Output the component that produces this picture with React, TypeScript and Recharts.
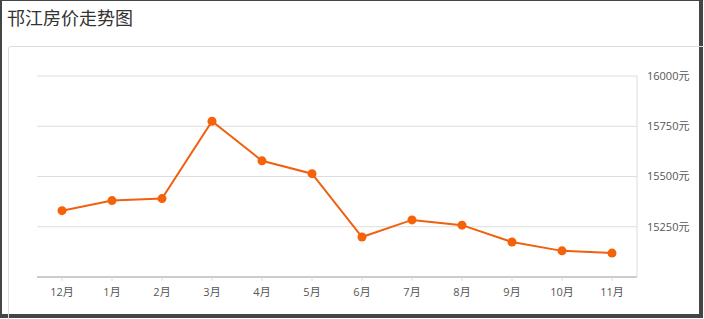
import React from 'react';
import { LineChart, Line, XAxis, YAxis, CartesianGrid } from 'recharts';

// 邗江 monthly average price (元/㎡), Dec -> Nov
const months = ['12月', '1月', '2月', '3月', '4月', '5月', '6月', '7月', '8月', '9月', '10月', '11月'];
const prices = [15330, 15380, 15390, 15775, 15578, 15514, 15199, 15284, 15258, 15174, 15130, 15119];
const yTicks = [15250, 15500, 15750, 16000];

const chartData = months.map((m, i) => ({ month: m, price: prices[i] }));

const FONT = '"Open Sans", "Noto Sans CJK SC", sans-serif';

export default function App() {
  return (
    <div style={{ position: 'absolute', left: 0, top: 0, width: 704, height: 319, background: '#fff', overflow: 'hidden', fontFamily: FONT }}>
      {/* window frame */}
      <div
        style={{
          position: 'absolute', left: 0, top: 0, width: 703, height: 318,
          boxSizing: 'border-box', borderStyle: 'solid', borderColor: '#454545',
          borderWidth: '1px 4px 4px 2px'
        }}
      />
      <div style={{ position: 'absolute', left: 7, top: 6, fontSize: 18, color: '#333', lineHeight: '24px' }}>
        邗江房价走势图
      </div>
      {/* inner panel */}
      <div
        style={{
          position: 'absolute', left: 8, top: 46, width: 720, height: 300,
          border: '1px solid #ddd', borderRadius: 3, boxSizing: 'border-box'
        }}
      />
      <div style={{ position: 'absolute', left: 0, top: 0 }}>
        <LineChart
          width={704}
          height={319}
          data={chartData}
          margin={{ top: 76, right: 7, bottom: 12, left: 37 }}
          style={{ fontFamily: FONT }}
        >
          <CartesianGrid vertical={false} stroke="#ddd" />
          <XAxis
            dataKey="month"
            interval={0}
            padding={{ left: 25, right: 25 }}
            height={30}
            axisLine={{ stroke: '#ccc', strokeWidth: 2 }}
            tickLine={{ stroke: '#ddd' }}
            tickSize={4}
            tickMargin={7}
            tick={{ fill: '#555', fontSize: 11 }}
          />
          <YAxis
            orientation="right"
            width={60}
            domain={[15000, 16000]}
            ticks={yTicks}
            axisLine={{ stroke: '#ddd' }}
            tickLine={false}
            tickMargin={4}
            tick={{ fill: '#555', fontSize: 11 }}
            tickFormatter={(v: number) => `${v}元`}
          />
          <Line
            type="linear"
            dataKey="price"
            stroke="#f0600e"
            strokeWidth={2}
            dot={{ r: 4.5, fill: '#f5620a', stroke: 'none' }}
            isAnimationActive={false}
          />
        </LineChart>
      </div>
    </div>
  );
}
